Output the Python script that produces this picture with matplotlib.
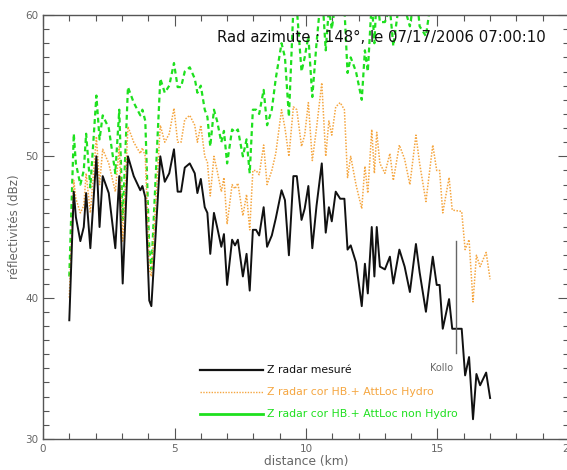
import numpy as np
import matplotlib
matplotlib.use("Agg")
import matplotlib.pyplot as plt
from matplotlib.ticker import MultipleLocator

# Range gates along the radial (km)
distance = [
    1.00, 1.17, 1.25, 1.42, 1.55, 1.64, 1.80, 2.03, 2.15, 2.27,
    2.50, 2.75, 2.90, 3.03, 3.23, 3.45, 3.70, 3.78, 3.89, 4.04,
    4.12, 4.46, 4.63, 4.80, 4.98, 5.12, 5.25, 5.39, 5.58, 5.77,
    5.87, 6.00, 6.15, 6.25, 6.36, 6.50, 6.62, 6.78, 6.88, 7.00,
    7.19, 7.30, 7.41, 7.60, 7.74, 7.86, 7.98, 8.10, 8.22, 8.39,
    8.52, 8.70, 8.85, 9.07, 9.20, 9.35, 9.52, 9.65, 9.83, 9.95,
    10.09, 10.24, 10.40, 10.60, 10.75, 10.87, 10.98, 11.13, 11.30, 11.46,
    11.58, 11.70, 11.90, 12.12, 12.24, 12.35, 12.50, 12.60, 12.69, 12.81,
    13.00, 13.19, 13.32, 13.55, 13.75, 13.95, 14.18, 14.32, 14.56, 14.82,
    14.97, 15.08, 15.20, 15.44, 15.56, 15.92, 16.05, 16.20, 16.35, 16.48,
    16.62, 16.85, 17.00,
]

# Measured reflectivity (dBZ)
z_mesure = [
    38.4, 47.5, 45.7, 44.0, 45.0, 47.4, 43.5, 50.0, 45.0, 48.6,
    47.4, 43.5, 48.6, 41.0, 50.0, 48.6, 47.6, 47.9, 47.1, 39.8,
    39.4, 50.0, 48.2, 48.8, 50.5, 47.5, 47.5, 49.2, 49.5, 48.8,
    47.4, 48.4, 46.4, 46.0, 43.1, 46.0, 45.0, 43.6, 44.5, 40.9,
    44.1, 43.7, 44.1, 41.5, 43.1, 40.5, 44.8, 44.8, 44.4, 46.4,
    43.6, 44.4, 45.6, 47.6, 46.9, 43.0, 48.6, 48.6, 45.5, 46.3,
    47.9, 43.5, 46.5, 49.5, 44.6, 46.4, 45.4, 47.5, 47.0, 47.0,
    43.4, 43.7, 42.5, 39.4, 42.4, 40.3, 45.0, 41.5, 45.0, 42.2,
    42.0, 42.9, 41.0, 43.4, 42.2, 40.4, 43.8, 41.8, 39.0, 42.9,
    40.9, 40.9, 37.8, 39.9, 37.8, 37.8, 34.5, 35.8, 31.4, 34.6,
    33.8, 34.7, 32.9,
]

# Corrected reflectivity: HB + local attenuation, hydro
z_cor_hydro = [
    40.0, 48.3, 47.0, 46.0, 46.5, 48.8, 46.0, 51.4, 48.0, 50.5,
    49.5, 47.5, 50.7, 44.0, 52.1, 51.0, 50.2, 50.6, 50.0, 42.0,
    41.5, 52.2, 51.0, 51.6, 53.4, 51.0, 51.0, 52.6, 52.9, 52.2,
    51.0, 52.2, 50.0, 49.6, 47.2, 50.0, 49.0, 47.5, 48.5, 45.2,
    48.0, 47.7, 48.1, 45.8, 47.3, 44.8, 49.0, 49.0, 48.7, 50.8,
    48.0, 49.0, 50.2, 53.3, 52.0, 50.0, 53.5, 53.3, 50.7, 51.5,
    53.8, 49.7, 52.0, 55.2, 50.0, 52.5, 51.5, 53.5, 53.8, 53.3,
    48.5, 50.0, 48.0, 46.3, 49.3, 47.4, 51.9, 48.8, 51.7, 49.5,
    48.8, 50.2, 48.3, 50.8, 49.8, 48.0, 51.5, 49.5, 46.8, 50.8,
    49.0, 49.0, 46.0, 48.5, 46.2, 46.1, 43.4, 44.1, 39.7, 43.0,
    42.2, 43.2, 41.3,
]

# Corrected reflectivity: HB + local attenuation, non hydro (valid up to 14.82 km)
z_cor_non_hydro = [
    41.5, 51.6, 49.5, 48.0, 49.0, 51.6, 47.8, 54.3, 51.2, 52.9,
    52.0, 48.8, 53.3, 45.5, 54.9, 53.8, 52.9, 53.3, 52.5, 43.5,
    42.0, 55.5, 54.5, 55.0, 56.6, 54.9, 54.9, 56.0, 56.3, 55.5,
    54.5, 55.0, 53.3, 52.8, 50.7, 53.3, 52.5, 51.0, 51.8, 49.5,
    51.9, 51.7, 51.9, 50.0, 51.2, 48.8, 53.3, 53.3, 53.0, 54.7,
    52.2, 53.3, 55.5, 58.0, 57.0, 52.8, 60.5, 60.5, 56.0, 57.0,
    58.5, 54.2, 58.0, 62.0, 57.5, 60.5, 59.0, 61.0, 61.0, 60.5,
    55.9, 57.0, 56.0, 54.0, 57.5, 56.0, 61.0, 58.0, 61.5, 59.5,
    59.5, 60.5, 57.8, 61.0, 60.5, 59.2, 62.0, 59.2, 58.5, 62.0,
]

legend_labels = [
    "Z radar mesuré",
    "Z radar cor HB.+ AttLoc Hydro",
    "Z radar cor HB.+ AttLoc non Hydro",
]
title_text = "Rad azimute : 148°, le 07/17/2006 07:00:10"
site_name = "Kollo"
site_distance = 15.7
site_range = (36.1, 44.0)

BLACK = "#111111"
ORANGE = "#f5a640"
GREEN = "#1ee01e"
GREY = "#666666"

fig = plt.figure(figsize=(5.67, 4.70), dpi=100)
ax = fig.add_axes([43 / 567, 31 / 470, 526 / 567, 424 / 470])

n_green = len(z_cor_non_hydro)
ax.plot(distance[:n_green], z_cor_non_hydro, color=GREEN, lw=1.6,
        linestyle=(0, (2.2, 1.6)))
ax.plot(distance, z_cor_hydro, color=ORANGE, lw=1.1, linestyle=(0, (1, 1)))
ax.plot(distance, z_mesure, color=BLACK, lw=1.4)

# Site marker
ax.plot([site_distance, site_distance], site_range, color=GREY, lw=1.0)
ax.text(site_distance - 0.1, 35.0, site_name, color=GREY, fontsize=7,
        ha="right", va="center")

# Hand-placed legend rows
leg_x0, leg_x1, leg_tx = 5.97, 8.37, 8.5
leg_y = [34.9, 33.3, 31.8]
leg_styles = [
    dict(color=BLACK, lw=1.6, linestyle="-"),
    dict(color=ORANGE, lw=1.0, linestyle=(0, (1, 1))),
    dict(color=GREEN, lw=2.0, linestyle="-"),
]
leg_text_colors = [BLACK, ORANGE, GREEN]
for y, style, lab, tc in zip(leg_y, leg_styles, legend_labels, leg_text_colors):
    ax.plot([leg_x0, leg_x1], [y, y], **style)
    ax.text(leg_tx, y, lab, color=tc, fontsize=7.8, va="center", ha="left")

ax.text(6.6, 58.4, title_text, fontsize=10.7, color="#111111",
        ha="left", va="center")

ax.set_xlim(0, 20)
ax.set_ylim(30, 60)
ax.xaxis.set_major_locator(MultipleLocator(5))
ax.xaxis.set_minor_locator(MultipleLocator(1))
ax.yaxis.set_major_locator(MultipleLocator(10))
ax.yaxis.set_minor_locator(MultipleLocator(1))
ax.tick_params(which="both", direction="in", top=True, right=True,
               colors="#555555", labelcolor=GREY, labelsize=7.5, width=0.8)
ax.tick_params(which="major", length=8)
ax.tick_params(which="minor", length=4)
for sp in ax.spines.values():
    sp.set_color("#555555")
    sp.set_linewidth(1.0)

ax.set_xlabel("distance (km)", fontsize=8.8, color=GREY, labelpad=1)
ax.set_ylabel("réflectivités (dBz)", fontsize=8.5, color=GREY, labelpad=3)

fig.savefig("out.png", dpi=100)
